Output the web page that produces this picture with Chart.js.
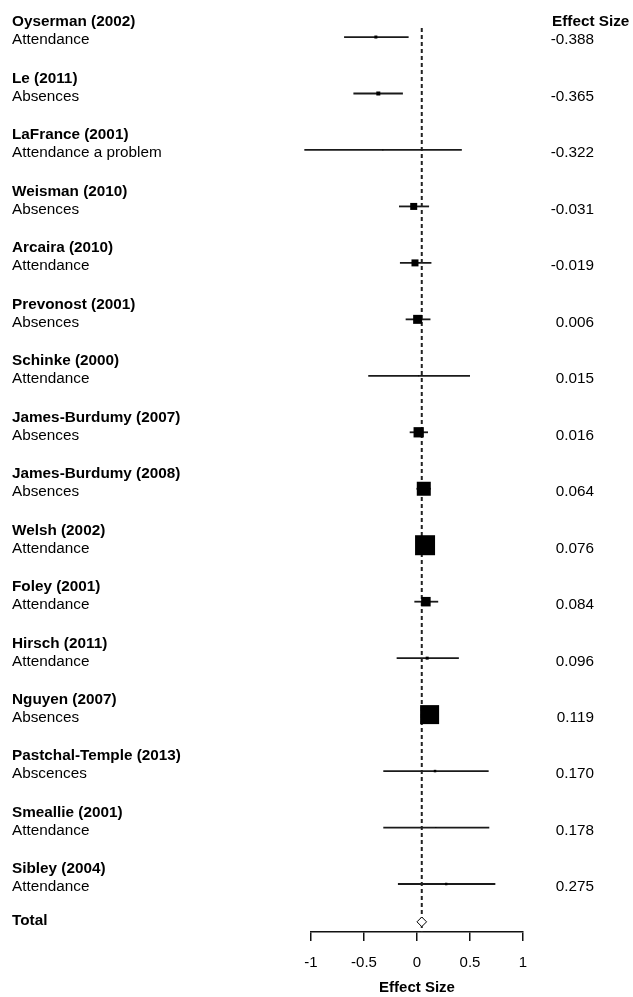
<!DOCTYPE html>
<html><head><meta charset="utf-8">
<script src="https://cdn.jsdelivr.net/npm/chart.js@4"></script>
<style>html,body{margin:0;padding:0;background:#fff}canvas{display:block}</style>
</head><body>
<canvas id="c" width="633" height="997"></canvas>
<script>
// ---- data ----
const studies = ['Oyserman (2002)','Le (2011)','LaFrance (2001)','Weisman (2010)','Arcaira (2010)','Prevonost (2001)','Schinke (2000)','James-Burdumy (2007)','James-Burdumy (2008)','Welsh (2002)','Foley (2001)','Hirsch (2011)','Nguyen (2007)','Pastchal-Temple (2013)','Smeallie (2001)','Sibley (2004)'];
const outcomes = ['Attendance','Absences','Attendance a problem','Absences','Attendance','Absences','Attendance','Absences','Absences','Attendance','Attendance','Attendance','Absences','Abscences','Attendance','Attendance'];
const effects = [-0.388,-0.365,-0.322,-0.031,-0.019,0.006,0.015,0.016,0.064,0.076,0.084,0.096,0.119,0.170,0.178,0.275];
const ciLow  = [-0.688,-0.600,-1.063,-0.170,-0.161,-0.107,-0.460,-0.069,-0.005,0.010,-0.025,-0.192,0.050,-0.318,-0.318,-0.180];
const ciHigh = [-0.079,-0.133,0.423,0.114,0.136,0.127,0.500,0.104,0.130,0.140,0.200,0.395,0.190,0.676,0.682,0.739];
const weights = [3,4,1,7,7,9,1,10.3,14,20,9.5,3,19,2.5,1,2.5];
const totalEffect = 0.045;
const xTicks = [-1,-0.5,0,0.5,1];
const valueHeader = 'Effect Size';
const axisTitle = 'Effect Size';
const totalLabel = 'Total';

// ---- layout constants ----
const ROW_MIN = -0.16, ROW_MAX = 15.85, TOTAL_ROW = 15.67;
const FONT = "'Liberation Sans', Arial, sans-serif";
const FS = 15.3;
Chart.defaults.font.family = FONT;
Chart.defaults.font.size = 15;
Chart.defaults.color = '#000';

const ciSets = studies.map((s,i)=>({
  type:'line',
  data:[{x:ciLow[i],y:i},{x:ciHigh[i],y:i}],
  borderColor:'#1a1a1a', borderWidth:1.8, pointRadius:0, clip:false, order:3
}));

const datasets = [
  {type:'scatter', data: effects.map((e,i)=>({x:e,y:i})), pointStyle:'rect',
   pointRadius: weights.map(w=>w/Math.SQRT2), pointBackgroundColor:'#000', pointBorderWidth:0, order:0, clip:false},
  {type:'scatter', data:[{x:totalEffect,y:TOTAL_ROW}], pointStyle:'rectRot', pointRadius:4.8,
   pointBackgroundColor:'#fff', pointBorderColor:'#000', pointBorderWidth:1, order:0},
  {type:'line', data:[{x:totalEffect,y:ROW_MIN},{x:totalEffect,y:ROW_MAX}], borderColor:'#222',
   borderWidth:2, borderDash:[4,3], pointRadius:0, order:1},
  ...ciSets
];

const labelPlugin = {
  id:'labels',
  afterDraw(chart){
    const {ctx} = chart; const y = chart.scales.y;
    ctx.save(); ctx.fillStyle = '#000'; ctx.textBaseline = 'alphabetic';
    studies.forEach((s,i)=>{
      const py = y.getPixelForValue(i);
      ctx.textAlign = 'left';
      ctx.font = 'bold ' + FS + 'px ' + FONT; ctx.fillText(s, 12, py - 10.6);
      ctx.font = FS + 'px ' + FONT; ctx.fillText(outcomes[i], 12, py + 7.4);
      ctx.textAlign = 'right'; ctx.fillText(effects[i].toFixed(3), 594, py + 7.4);
    });
    const p0 = y.getPixelForValue(0);
    ctx.textAlign = 'left'; ctx.font = 'bold ' + FS + 'px ' + FONT;
    ctx.fillText(valueHeader, 552, p0 - 10.6);
    ctx.fillText(totalLabel, 12, y.getPixelForValue(TOTAL_ROW) + 3.4);
    ctx.restore();
  }
};

new Chart(document.getElementById('c'), {
  data:{datasets},
  options:{
    responsive:false, animation:false,
    layout:{padding:{top:28,bottom:0,left:0,right:0}},
    plugins:{legend:{display:false}, tooltip:{enabled:false}},
    scales:{
      x:{type:'linear', min:-1, max:1,
        afterBuildTicks: s => { s.ticks = xTicks.map(v=>({value:v})); },
        ticks:{padding:13, callback:v=>String(v), maxRotation:0, font:{size:15}},
        grid:{drawOnChartArea:false, drawTicks:true, tickLength:9, color:'#111', lineWidth:1.5},
        border:{display:true, color:'#111', width:1.5},
        title:{display:true, text:axisTitle, font:{size:15, weight:'bold'}, padding:{top:-6,bottom:0}}
      },
      y:{type:'linear', reverse:true, min:ROW_MIN, max:ROW_MAX, position:'left',
        ticks:{display:false}, grid:{display:false}, border:{display:false},
        afterFit: s => { s.width = 311; }
      },
      y2:{type:'linear', position:'right',
        ticks:{display:false}, grid:{display:false}, border:{display:false},
        afterFit: s => { s.width = 110; }
      }
    }
  },
  plugins:[labelPlugin]
});
</script>
</body></html>
